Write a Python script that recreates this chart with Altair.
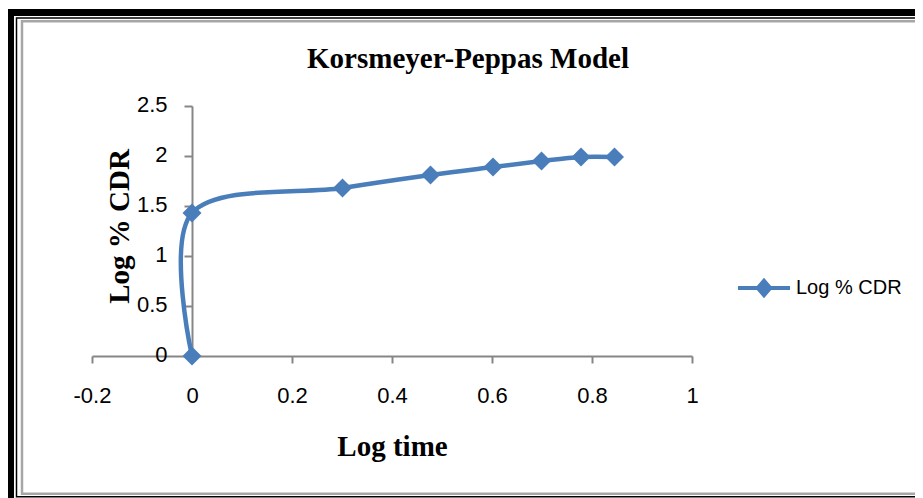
import altair as alt
import pandas as pd

# ---- data ----
log_time = [0.0, 0.0, 0.301, 0.477, 0.602, 0.699, 0.778, 0.845]
log_cdr = [0.0, 1.43, 1.68, 1.81, 1.89, 1.95, 1.99, 1.99]
series_name = "Log % CDR"
x_ticks = [-0.2, 0, 0.2, 0.4, 0.6, 0.8, 1.0]
y_ticks = [0, 0.5, 1, 1.5, 2, 2.5]
chart_title = "Korsmeyer-Peppas Model"
x_title = "Log time"
y_title = "Log % CDR"

df = pd.DataFrame({
    "idx": list(range(len(log_time))),
    "t": log_time,
    "c": log_cdr,
    "s": [series_name] * len(log_time),
})

BLUE = "#4A7EBB"
GRAY = "#868686"
W, H = 600, 250

xscale = alt.Scale(domain=[-0.2, 1.0], nice=False, zero=False)
yscale = alt.Scale(domain=[0, 2.5], nice=False)

x_enc = alt.X(
    "t:Q", scale=xscale, title=x_title,
    axis=alt.Axis(
        values=x_ticks, format="~g", grid=False,
        labelExpr="replace(datum.label, '\u2212', '-')",
        domainColor=GRAY, domainWidth=2, tickColor=GRAY, tickWidth=2, tickSize=7,
        labelFont="Liberation Sans", labelFontSize=22, labelColor="black",
        labelPadding=22, labelFlush=False, labelOverlap=False,
        titleFont="Liberation Serif", titleFontSize=29, titleFontWeight="bold",
        titleColor="black", titleX=W / 2, titleY=99, titleBaseline="alphabetic",
        titleAlign="center",
    ),
)
y_enc = alt.Y(
    "c:Q", scale=yscale, title=y_title,
    axis=alt.Axis(
        values=y_ticks, format="~g", grid=False, offset=-100,
        domainColor=GRAY, domainWidth=2, tickColor=GRAY, tickWidth=2, tickSize=8,
        labelFont="Liberation Sans", labelFontSize=22, labelColor="black",
        labelPadding=17, labelFlush=False, labelOverlap=False, labelOffset=-2,
        titleFont="Liberation Serif", titleFontSize=29, titleFontWeight="bold",
        titleColor="black", titleX=-64, titleY=120, titleBaseline="alphabetic",
        titleAlign="center", titleAngle=270,
    ),
)

legend = alt.Legend(
    title=None, orient="none", legendX=644, legendY=154,
    symbolType="M-1,0L1,0M-0.24,0L0,-0.28L0.24,0L0,0.28Z",
    symbolSize=2704, symbolStrokeWidth=4, symbolFillColor=BLUE,
    symbolStrokeColor=BLUE,
    labelFont="Liberation Sans", labelFontSize=20,
    labelColor="black", labelOffset=4,
)

color = alt.Color("s:N", scale=alt.Scale(range=[BLUE]), legend=legend)

line = alt.Chart(df).mark_line(
    interpolate="cardinal", strokeWidth=4.5
).encode(x=x_enc, y=y_enc, order=alt.Order("idx:Q"), color=color)

points = alt.Chart(df).mark_point(
    shape="diamond", filled=True, size=360, opacity=1
).encode(x="t:Q", y="c:Q", color=alt.Color("s:N", legend=None))

one = alt.Data(values=[{"k": 1}])

def frame(x, y, x2, y2, col, sw):
    return alt.Chart(one).mark_rect(
        fill="transparent", stroke=col, strokeWidth=sw
    ).encode(x=alt.value(x), y=alt.value(y), x2=alt.value(x2), y2=alt.value(y2))

frames = (
    frame(-81.5, -93.5, 845, 398, "black", 7)
    + frame(-75.5, -88, 838, 390.7, "black", 1.5)
    + frame(-70, -84.7, 833, 387.8, "#A6A6A6", 2.5)
)

title = alt.Chart(one).mark_text(
    text=chart_title, font="Liberation Serif", fontSize=29, fontWeight="bold",
    align="center", baseline="alphabetic", color="black",
).encode(x=alt.value(376), y=alt.value(-38))

chart = alt.layer(frames, title, line, points).resolve_scale(color="shared").properties(
    width=W, height=H,
    autosize=alt.AutoSizeParams(type="none"),
    padding={"left": 84, "top": 98, "right": 223, "bottom": 142},
    background="white",
).configure_view(stroke=None)

chart.save("out.html", embed_options={"renderer": "svg", "actions": False})
